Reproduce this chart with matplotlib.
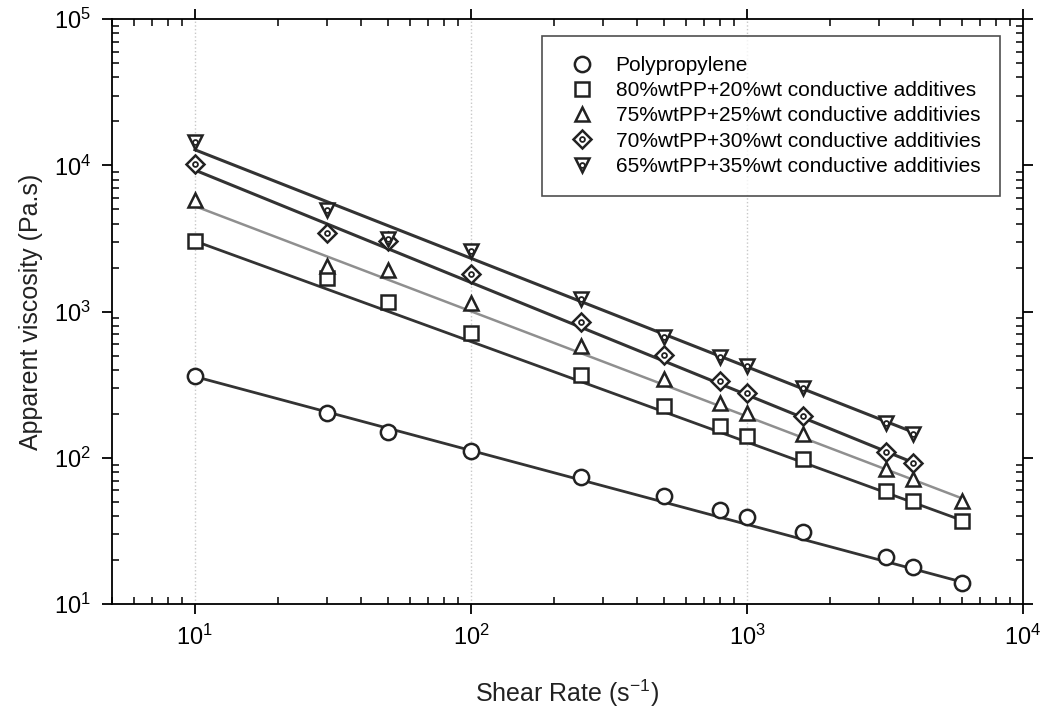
import numpy as np
import matplotlib
matplotlib.use("Agg")
import matplotlib.pyplot as plt

plt.rcParams['font.family'] = ['Liberation Sans', 'DejaVu Sans']
plt.rcParams['mathtext.fontset'] = 'custom'
plt.rcParams['mathtext.rm'] = 'Liberation Sans'
plt.rcParams['mathtext.it'] = 'Liberation Sans:italic'

# Datos
shear = [10, 30, 50, 100, 250, 500, 800, 1000, 1600, 3200, 4000, 6000]
pp = [363, 202, 151, 111, 74.5, 55, 44.4, 39.7, 31.2, 20.9, 18.0, 14.0]
pp80 = [3040, 1710, 1170, 711, 369, 227, 165, 141, 97.7, 59.4, 50.7, 37]
pp75 = [5800, 2050, 1920, 1150, 582, 344, 239, 204, 145, 83.6, 71.4, 50.7]
pp70 = [10300, 3430, 3040, 1800, 855, 502, 336, 279, 193, 110, 91.9]
pp65 = [14500, 4920, 3150, 2590, 1213, 670, 492, 425, 302, 174, 145]

# Rectas de ajuste (valor en x=10 y en el ultimo x)
fit_pp = [360, 14.2]
fit_pp80 = [3040, 37.5]
fit_pp75 = [5270, 53]
fit_pp70 = [9290, 93]
fit_pp65 = [12800, 150]

labels = ['Polypropylene',
          '80%wtPP+20%wt conductive additives',
          '75%wtPP+25%wt conductive additivies',
          '70%wtPP+30%wt conductive additivies',
          '65%wtPP+35%wt conductive additivies']

fig = plt.figure(figsize=(10.45, 7.1), dpi=100)
ax = fig.add_axes([0.107, 0.149, 0.872, 0.824])

dark = '#333333'
edge = '#222222'

series = [
    (pp, fit_pp, 'o', 11, dark, 2.0),
    (pp80, fit_pp80, 's', 10, dark, 2.0),
    (pp75, fit_pp75, '^', 10.5, '#8f8f8f', 1.8),
    (pp70, fit_pp70, 'D', 9, dark, 2.2),
    (pp65, fit_pp65, 'v', 10.5, dark, 2.2),
]

handles = []
for i, (vals, fit, mk, ms, lc, lw) in enumerate(series):
    x = shear[:len(vals)]
    ax.plot([x[0], x[-1]], fit, color=lc, lw=lw, zorder=2)
    h, = ax.plot(x, vals, linestyle='none', marker=mk, ms=ms, mfc='white',
                 mec=edge, mew=1.8, zorder=3)
    if mk in ('D', 'v'):
        dot, = ax.plot(x, vals, linestyle='none', marker='o', ms=3.5,
                       mfc='white', mec=edge, mew=1.3, zorder=4)
        handles.append((h, dot))
    else:
        handles.append(h)

ax.set_xscale('log')
ax.set_yscale('log')
ax.set_xlim(5, 1e4)
ax.set_ylim(10, 1e5)

ax.grid(True, which='major', axis='x', color='#c8c8c8', linestyle=':', lw=1)

ax.tick_params(which='major', direction='out', length=7, width=1.3,
               top=True, right=True, labelsize=17, pad=8)
ax.tick_params(which='minor', direction='in', length=5, width=1.1,
               top=True, right=True)
for s in ax.spines.values():
    s.set_linewidth(1.3)

ax.set_xlabel('Shear Rate (s$^{-1}$)', fontsize=18, color='#222222', labelpad=20)
ax.set_ylabel('Apparent viscosity (Pa.s)', fontsize=18, color='#222222', labelpad=8)

leg = ax.legend(handles, labels, loc='upper right', bbox_to_anchor=(0.975, 0.971),
                borderaxespad=0, fontsize=15, frameon=True, fancybox=False,
                edgecolor='#222222', labelspacing=0.3, handletextpad=0.6,
                handlelength=2.0, borderpad=0.95)
leg.get_frame().set_linewidth(1.2)

plt.savefig('out.png', dpi=100)
